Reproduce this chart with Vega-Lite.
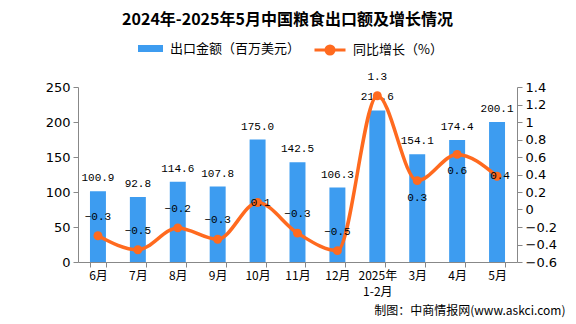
{
  "$schema": "https://vega.github.io/schema/vega-lite/v6.json",
  "width": 439,
  "height": 175,
  "autosize": {"type": "none"},
  "padding": {"left": 78, "top": 87, "right": 59, "bottom": 62},
  "background": "white",
  "title": {"text": "2024年-2025年5月中国粮食出口额及增长情况", "fontSize": 16, "font": "Noto Sans CJK SC", "fontWeight": "bold", "color": "#000", "anchor": "middle", "dx": -10, "offset": 5},
  "data": {"values": [
    {"month": "6月", "amt": 100.9, "yoy": -0.30},
    {"month": "7月", "amt": 92.8, "yoy": -0.46},
    {"month": "8月", "amt": 114.6, "yoy": -0.21},
    {"month": "9月", "amt": 107.8, "yoy": -0.34},
    {"month": "10月", "amt": 175.0, "yoy": 0.08},
    {"month": "11月", "amt": 142.5, "yoy": -0.27},
    {"month": "12月", "amt": 106.3, "yoy": -0.47},
    {"month": "2025年1-2月", "amt": 216.6, "yoy": 1.30},
    {"month": "3月", "amt": 154.1, "yoy": 0.33},
    {"month": "4月", "amt": 174.4, "yoy": 0.63},
    {"month": "5月", "amt": 200.1, "yoy": 0.38}
  ]},
  "encoding": {
    "x": {
      "field": "month", "type": "ordinal", "sort": null,
      "scale": {"domain": ["6月","7月","8月","9月","10月","11月","12月","2025年1-2月","3月","4月","5月"], "paddingInner": 0.6, "paddingOuter": 0.3},
      "axis": {
        "title": "制图：中商情报网(www.askci.com)",
        "titleAnchor": "end", "titleAlign": "right", "titleBaseline": "middle",
        "titleX": 487, "titleY": 48,
        "titleFontSize": 12, "titleFontWeight": "normal", "titleFont": "Noto Sans CJK SC", "titleColor": "#000",
        "labelAngle": 0, "labelFont": "Noto Sans CJK SC", "labelFontSize": 12, "labelBaseline": "top",
        "tickBand": "extent", "tickSize": 5, "labelPadding": 3, "labelLineHeight": 16,
        "labelExpr": "datum.value == '2025年1-2月' ? ['2025年','1-2月'] : datum.value"
      }
    }
  },
  "layer": [
    {
      "encoding": {
        "y": {"field": "amt", "type": "quantitative", "scale": {"domain": [0, 250]},
          "axis": {"orient": "left", "values": [0, 50, 100, 150, 200, 250], "title": null, "tickSize": 5, "labelPadding": 3}}
      },
      "layer": [
        {
          "mark": {"type": "bar"},
          "encoding": {
            "fill": {"datum": "出口金额（百万美元）", "scale": {"range": ["#3d9cf0"]},
              "legend": {"orient": "none", "legendX": 60, "legendY": -51, "title": null,
                "symbolType": "M-1,-0.28H1V0.28H-1Z", "symbolSize": 625, "symbolStrokeWidth": 0,
                "labelFontSize": 13, "labelFont": "Noto Sans CJK SC", "labelColor": "#000", "padding": 0, "labelOffset": 7}}
          }
        },
        {
          "mark": {"type": "text", "baseline": "bottom", "dy": -8, "font": "Liberation Mono", "fontSize": 11, "color": "#000"},
          "encoding": {"text": {"field": "amt", "type": "quantitative", "format": ".1f"}}
        }
      ]
    },
    {
      "encoding": {
        "y": {"field": "yoy", "type": "quantitative", "scale": {"domain": [-0.6, 1.4]},
          "axis": {"orient": "right", "values": [-0.6, -0.4, -0.2, 0, 0.2, 0.4, 0.6, 0.8, 1, 1.2, 1.4], "format": ".1~f", "title": null, "tickSize": 5, "labelPadding": 3}}
      },
      "layer": [
        {
          "mark": {"type": "line", "interpolate": "monotone", "strokeWidth": 3.5},
          "encoding": {
            "stroke": {"datum": "同比增长（%）", "scale": {"range": ["#ff6a1f"]},
              "legend": {"orient": "none", "legendX": 235, "legendY": -54, "title": null,
                "symbolType": "M-1,0H1M-0.26,0A0.26,0.26 0 1,1 0.26,0A0.26,0.26 0 1,1 -0.26,0Z", "symbolSize": 961, "symbolStrokeWidth": 3,
                "labelFontSize": 13, "labelFont": "Noto Sans CJK SC", "labelColor": "#000", "padding": 0, "labelOffset": 6,
                "encode": {"symbols": {"update": {"fill": {"value": "#ff6a1f"}, "stroke": {"value": "#ff6a1f"}, "strokeWidth": {"value": 3}}}}}}
          }
        },
        {
          "mark": {"type": "point", "filled": true, "size": 80, "color": "#ff6a1f", "opacity": 1}
        },
        {
          "transform": [{"filter": {"not": {"field": "month", "oneOf": ["3月", "4月", "10月", "5月"]}}}],
          "mark": {"type": "text", "baseline": "middle", "dy": -19, "font": "Liberation Mono", "fontSize": 11, "color": "#000"},
          "encoding": {"text": {"field": "yoy", "type": "quantitative", "format": ".1f"}}
        },
        {
          "transform": [{"filter": {"field": "month", "oneOf": ["3月", "4月"]}}],
          "mark": {"type": "text", "baseline": "middle", "dy": 17, "font": "Liberation Mono", "fontSize": 11, "color": "#000"},
          "encoding": {"text": {"field": "yoy", "type": "quantitative", "format": ".1f"}}
        },
        {
          "transform": [{"filter": {"field": "month", "oneOf": ["10月", "5月"]}}],
          "mark": {"type": "text", "baseline": "middle", "dx": 3, "font": "Liberation Mono", "fontSize": 11, "color": "#000"},
          "encoding": {"text": {"field": "yoy", "type": "quantitative", "format": ".1f"}}
        }
      ]
    }
  ],
  "resolve": {"scale": {"y": "independent"}},
  "config": {
    "view": {"stroke": null},
    "axis": {"domainColor": "#888", "tickColor": "#888", "grid": false, "labelColor": "#000", "labelFont": "DejaVu Sans", "labelFontSize": 13}
  }
}
